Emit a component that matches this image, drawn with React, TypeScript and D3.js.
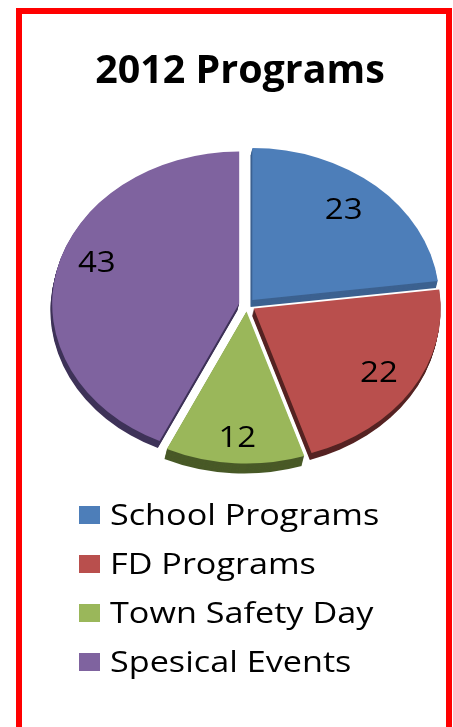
import React from 'react'
import * as d3 from 'd3'

const categories = ['School Programs', 'FD Programs', 'Town Safety Day', 'Spesical Events']
const values = [23, 22, 12, 43]
const colors = ['#4e7eb9', '#b9504d', '#9ab75a', '#7f639f']
const sideColors = ['#3c6290', '#552422', '#485a28', '#3f3259']
const titleText = '2012 Programs'

const width = 453
const height = 727
const cx = 247
const cy = 305
const rx = 187
const ry = 152
const explode = 8
const depths = [7, 7, 10, 7]
const font = '"Open Sans", "Noto Sans", sans-serif'

// labels don't sit on one radius in the original, so nudge them a bit
const labelNudge = [[-5, -3], [2, -1], [0, 7], [0, -16]]

export default function App() {
  const pie = d3.pie<number>().sort(null)(values)
  // draw on a circle, squash it in y for the tilted look
  const arc = d3.arc<d3.PieArcDatum<number>>().innerRadius(0).outerRadius(rx)
  const yScale = ry / rx
  const legendY = d3.scalePoint<string>().domain(categories).range([515, 662])

  const offset = (d: d3.PieArcDatum<number>) => {
    const mid = (d.startAngle + d.endAngle) / 2
    return [cx + explode * Math.sin(mid), cy - explode * Math.cos(mid) * yScale]
  }

  return (
    <svg width={width} height={height} style={{ position: 'absolute', left: 0, top: 0, background: '#fff' }}>
      <defs>
        <filter id="soft" x="-5%" y="-5%" width="110%" height="110%">
          <feGaussianBlur stdDeviation="0.5" />
        </filter>
      </defs>
      <path d={`M19,${height} V11 H449 V${height}`} fill="none" stroke="#ff0000" strokeWidth={6} />
      <g filter="url(#soft)">
        <text x={240} y={83} textAnchor="middle" fontFamily={font} fontWeight={700} fontSize={39.4} fill="#000">
          {titleText}
        </text>
        {pie.map((d, i) => {
          const [x, y] = offset(d)
          return (
            <g key={i}>
              {d3.range(depths[i], 0, -1).map(k => (
                <path
                  key={k}
                  d={arc(d) as string}
                  fill={sideColors[i]}
                  transform={`translate(${x - k * 0.25},${y + k}) scale(1,${yScale})`}
                />
              ))}
            </g>
          )
        })}
        {pie.map((d, i) => {
          const [x, y] = offset(d)
          return (
            <path key={i} d={arc(d) as string} fill={colors[i]} transform={`translate(${x},${y}) scale(1,${yScale})`} />
          )
        })}
        {pie.map((d, i) => {
          const [x, y] = offset(d)
          const mid = (d.startAngle + d.endAngle) / 2
          const lx = x + rx * 0.78 * Math.sin(mid) + labelNudge[i][0]
          const ly = y - ry * 0.78 * Math.cos(mid) + labelNudge[i][1]
          return (
            <text
              key={i}
              transform={`translate(${lx},${ly}) scale(1.12,1)`}
              dy="0.36em"
              textAnchor="middle"
              fontFamily={font}
              fontSize={29.5}
              fill="#000"
            >
              {d.value}
            </text>
          )
        })}
        {categories.map((c, i) => (
          <g key={c}>
            <rect x={79} y={(legendY(c) as number) - 9} width={21} height={18} fill={colors[i]} />
            {/* original text is stretched sideways */}
            <text
              transform={`translate(110,${(legendY(c) as number) + 9.5}) scale(1.2,1)`}
              fontFamily={font}
              fontSize={28.5}
              fill="#000"
            >
              {c}
            </text>
          </g>
        ))}
      </g>
    </svg>
  )
}
